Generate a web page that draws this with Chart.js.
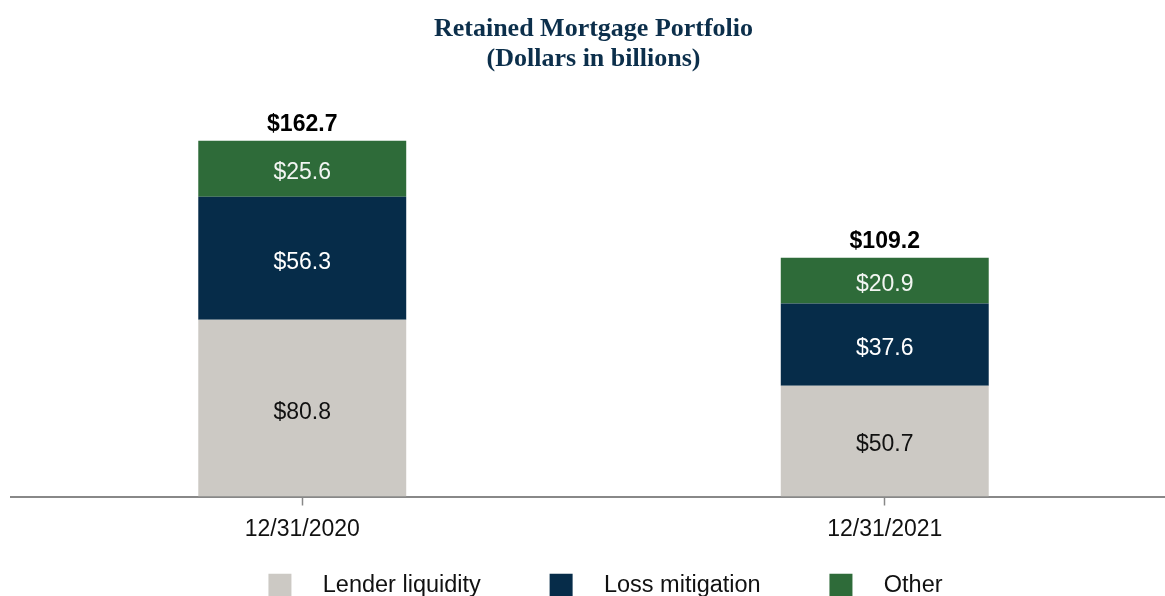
<!DOCTYPE html>
<html>
<head>
<meta charset="utf-8">
<script src="https://cdn.jsdelivr.net/npm/chart.js@4/dist/chart.umd.min.js"></script>
<style>
  html, body { margin: 0; padding: 0; background: #fff; overflow: hidden; }
  #wrap { position: relative; width: 1176px; height: 607px; }
</style>
</head>
<body>
<div id="wrap"><canvas id="portfolioChart"></canvas></div>
<script>
// Data
const categories = ['12/31/2020', '12/31/2021'];
const lenderLiquidity = [80.8, 50.7];
const lossMitigation = [56.3, 37.6];
const other = [25.6, 20.9];
const seriesNames = ['Lender liquidity', 'Loss mitigation', 'Other'];

const COLORS = ['#CCC9C4', '#062C49', '#2E6B39'];
const LABEL_COLORS = ['#111111', '#FFFFFF', '#F2F5F2'];
const SANS = "'Liberation Sans', Arial, sans-serif";

// Draws segment values and stack totals
const valueLabels = {
    id: 'valueLabels',
    afterDatasetsDraw(chart) {
        const ctx = chart.ctx;
        ctx.save();
        ctx.textAlign = 'center';
        ctx.textBaseline = 'middle';
        ctx.font = '23px ' + SANS;
        chart.data.datasets.forEach((ds, di) => {
            const meta = chart.getDatasetMeta(di);
            meta.data.forEach((bar, i) => {
                ctx.fillStyle = LABEL_COLORS[di];
                ctx.fillText('$' + ds.data[i].toFixed(1), bar.x, (bar.y + bar.base) / 2 + 4);
            });
        });
        // totals above the top segment
        const last = chart.getDatasetMeta(chart.data.datasets.length - 1);
        ctx.font = 'bold 23px ' + SANS;
        ctx.fillStyle = '#000000';
        last.data.forEach((bar, i) => {
            const total = chart.data.datasets.reduce((s, ds) => s + ds.data[i], 0);
            ctx.fillText('$' + total.toFixed(1), bar.x, bar.y - 16);
        });
        ctx.restore();
    }
};

// nudge the legend a little right of centre, as in the source
const legendShift = {
    id: 'legendShift',
    afterLayout(chart) {
        chart.legend.left += 12;
        chart.legend.right += 12;
    }
};

new Chart(document.getElementById('portfolioChart'), {
    type: 'bar',
    data: {
        labels: categories,
        datasets: [lenderLiquidity, lossMitigation, other].map((values, i) => ({
            label: seriesNames[i],
            data: values,
            backgroundColor: COLORS[i],
            borderWidth: 0,
            barPercentage: 0.357,
            categoryPercentage: 1
        }))
    },
    options: {
        responsive: true,
        maintainAspectRatio: false,
        animation: false,
        layout: { padding: { left: 11, right: 0, top: 0, bottom: 0 } },
        plugins: {
            title: {
                display: true,
                text: ['Retained Mortgage Portfolio', '(Dollars in billions)'],
                color: '#0C2F4B',
                font: { family: "'Liberation Serif', 'Times New Roman', serif", size: 26, weight: 'bold', lineHeight: '30px' },
                padding: { top: 14, bottom: 29 }
            },
            legend: {
                position: 'bottom',
                labels: {
                    boxWidth: 23,
                    boxHeight: 23,
                    padding: 10,
                    color: '#111111',
                    font: { family: SANS, size: 23.5 },
                    generateLabels(chart) {
                        const items = Chart.defaults.plugins.legend.labels.generateLabels(chart);
                        items.forEach((item, i) => {
                            item.text = '   ' + item.text + (i < items.length - 1 ? '         ' : '');
                            item.lineWidth = 0;
                        });
                        return items;
                    }
                }
            },
            tooltip: { enabled: false }
        },
        scales: {
            x: {
                stacked: true,
                afterFit(scale) { scale.height = 67; },
                grid: {
                    display: true,
                    offset: false,
                    drawOnChartArea: false,
                    drawTicks: true,
                    tickLength: 9,
                    tickColor: '#888888',
                    tickWidth: 1.5
                },
                border: { display: true, color: '#888888', width: 2 },
                ticks: {
                    color: '#111111',
                    padding: 10,
                    font: { family: SANS, size: 23 }
                }
            },
            y: {
                stacked: true,
                display: false,
                min: 0,
                max: 180
            }
        }
    },
    plugins: [valueLabels, legendShift]
});
</script>
</body>
</html>
